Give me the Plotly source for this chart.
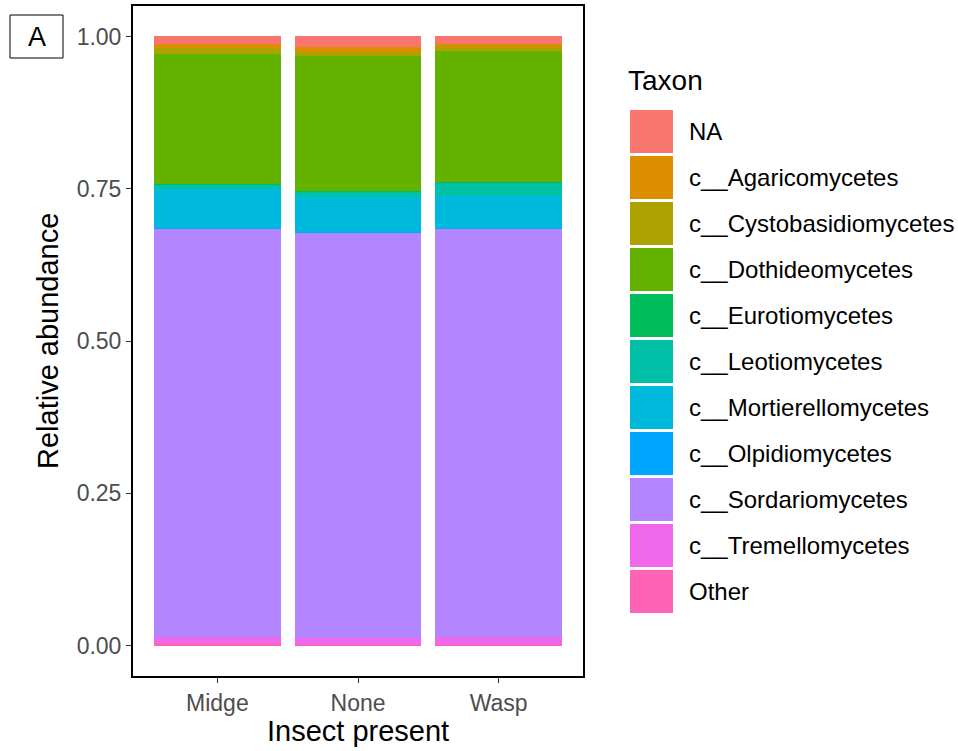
import plotly.graph_objects as go

# Relative abundance of fungal classes by insect treatment
groups = ["Midge", "None", "Wasp"]
taxa = ["NA", "c__Agaricomycetes", "c__Cystobasidiomycetes", "c__Dothideomycetes",
        "c__Eurotiomycetes", "c__Leotiomycetes", "c__Mortierellomycetes",
        "c__Olpidiomycetes", "c__Sordariomycetes", "c__Tremellomycetes", "Other"]
colors = ["#F8766D", "#DB8E00", "#AEA200", "#64B200", "#00BD5C", "#00C1A7",
          "#00BADE", "#00A6FF", "#B385FF", "#EF67EB", "#FF63B6"]

ab_na = [0.0131, 0.0181, 0.0131]
ab_agaricomycetes = [0.0055, 0.0070, 0.0049]
ab_cystobasidiomycetes = [0.0094, 0.0072, 0.0066]
ab_dothideomycetes = [0.2145, 0.2217, 0.2146]
ab_eurotiomycetes = [0.0010, 0.0005, 0.0010]
ab_leotiomycetes = [0.0075, 0.0094, 0.0225]
ab_mortierellomycetes = [0.0630, 0.0564, 0.0513]
ab_olpidiomycetes = [0.0010, 0.0010, 0.0010]
ab_sordariomycetes = [0.6710, 0.6657, 0.6707]
ab_tremellomycetes = [0.0100, 0.0120, 0.0133]
ab_other = [0.0040, 0.0010, 0.0010]

series = [ab_na, ab_agaricomycetes, ab_cystobasidiomycetes, ab_dothideomycetes,
          ab_eurotiomycetes, ab_leotiomycetes, ab_mortierellomycetes,
          ab_olpidiomycetes, ab_sordariomycetes, ab_tremellomycetes, ab_other]

y_ticks = [0, 0.25, 0.5, 0.75, 1.0]
y_ticklabels = ["0.00", "0.25", "0.50", "0.75", "1.00"]

FONT = "Liberation Sans, Arial, Helvetica, sans-serif"

fig = go.Figure()
# stack from the bottom: Other first, NA on top
for name, vals, col in reversed(list(zip(taxa, series, colors))):
    fig.add_trace(go.Bar(x=groups, y=vals, name=name, marker=dict(color=col, line=dict(width=0)),
                         showlegend=False))

W, H = 958, 751
L, R, T, B = 133, 583, 6, 676
pw, ph = R - L, B - T


def px(x):
    return (x - L) / pw


def py(y):
    return (B - y) / ph


shapes = []
annotations = []

# legend keys drawn as filled squares
key_top = 110
pitch = 46
for i, (name, col) in enumerate(zip(taxa, colors)):
    top = key_top + i * pitch
    shapes.append(dict(type="rect", xref="paper", yref="paper",
                       x0=px(630), x1=px(673), y0=py(top + 43), y1=py(top),
                       fillcolor=col, line=dict(width=0)))
    annotations.append(dict(xref="paper", yref="paper", x=px(687), y=py(top + 21.5),
                            text=name, showarrow=False, xanchor="left", yanchor="middle",
                            font=dict(family=FONT, size=24, color="black")))
annotations.append(dict(xref="paper", yref="paper", x=px(626), y=py(80), text="Taxon",
                        showarrow=False, xanchor="left", yanchor="middle",
                        font=dict(family=FONT, size=28, color="black")))

# panel tag
shapes.append(dict(type="rect", xref="paper", yref="paper",
                   x0=px(10), x1=px(63), y0=py(58), y1=py(15),
                   fillcolor="white", line=dict(color="black", width=1)))
annotations.append(dict(xref="paper", yref="paper", x=px(37), y=py(37), text="A",
                        showarrow=False, xanchor="center", yanchor="middle",
                        font=dict(family=FONT, size=27, color="black")))

# axis titles
annotations.append(dict(xref="paper", yref="paper", x=px(358), y=py(731), text="Insect present",
                        showarrow=False, xanchor="center", yanchor="middle",
                        font=dict(family=FONT, size=29, color="black")))
annotations.append(dict(xref="paper", yref="paper", x=px(48), y=py(341), text="Relative abundance",
                        showarrow=False, xanchor="center", yanchor="middle", textangle=-90,
                        font=dict(family=FONT, size=29, color="black")))

fig.update_layout(
    width=W, height=H,
    margin=dict(l=L, r=W - R, t=T, b=H - B, autoexpand=False),
    barmode="stack", bargap=0.1,
    plot_bgcolor="white", paper_bgcolor="white",
    shapes=shapes, annotations=annotations,
    font=dict(family=FONT),
    xaxis=dict(range=[-0.6, 2.6], showline=True, linecolor="black", linewidth=2, mirror=True,
               ticks="outside", ticklen=5, tickcolor="#333333", tickwidth=1.2,
               tickfont=dict(family=FONT, size=23, color="#4D4D4D"), showgrid=False),
    yaxis=dict(range=[-0.05, 1.05], showline=True, linecolor="black", linewidth=2, mirror=True,
               ticks="outside", ticklen=5, tickcolor="#333333", tickwidth=1.2,
               tickvals=y_ticks, ticktext=y_ticklabels, zeroline=False,
               tickfont=dict(family=FONT, size=23, color="#4D4D4D"), showgrid=False),
)

fig.write_html("out.html")
